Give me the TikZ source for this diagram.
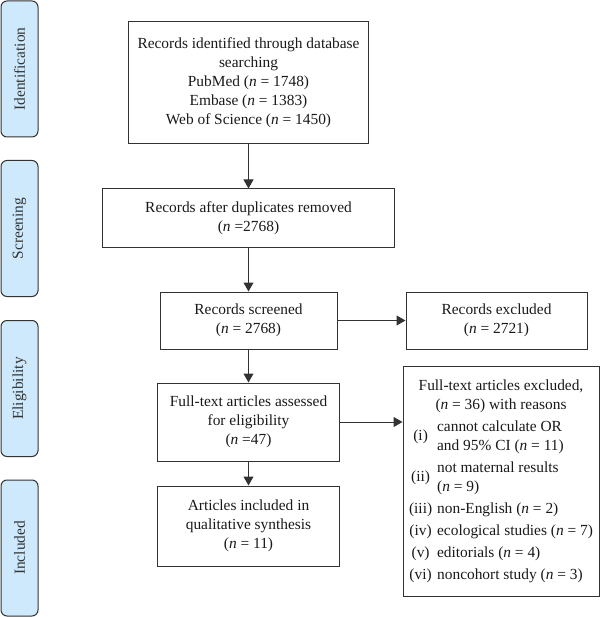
\documentclass[tikz,border=0pt]{standalone}
\usepackage{fontspec}
\setmainfont{Liberation Serif}
\usetikzlibrary{arrows.meta}
\definecolor{stageblue}{HTML}{CDE9FB}
\definecolor{inkgray}{HTML}{333333}
\tikzset{
  stage/.style={draw=inkgray, line width=1pt, fill=stageblue, rounded corners=6pt,
    rotate=90, minimum width=136pt, minimum height=37pt, inner sep=0pt, text=inkgray},
  flowbox/.style={draw=inkgray, line width=1pt, align=center, inner sep=0pt, text=black!90},
}
\newcommand{\nn}{\textit{n}}
\newcommand{\itemgap}{\\ \noalign{\vskip 3pt}}
\begin{document}
\begin{tikzpicture}[x=1pt, y=-1pt, font=\fontsize{15.4}{19}\selectfont,
    >={Triangle[width=10pt,length=9pt]}]
  \useasboundingbox (0,0) rectangle (600,617);

  % stage labels
  \begin{scope}[every node/.style={stage}]
    \node (ident) at (19.5,69) {Identification};
    \node (screen) at (19.5,228.5) {Screening};
    \node (elig) at (19.5,388.5) {Eligibility};
    \node (incl) at (19.5,548) {Included};
  \end{scope}

  % flow boxes
  \begin{scope}[every node/.style={flowbox}]
    \node[minimum width=240pt, minimum height=122pt] (found) at (248.5,83)
      {Records identified through database\\searching\\PubMed (\nn{} = 1748)\\Embase (\nn{} = 1383)\\Web of Science (\nn{} = 1450)};
    \node[minimum width=292pt, minimum height=58pt] (dedup) at (248.5,218)
      {Records after duplicates removed\\(\nn{} =2768)};
    \node[minimum width=177pt, minimum height=57pt] (screened) at (248.5,320.5)
      {Records screened\\(\nn{} = 2768)};
    \node[minimum width=182pt, minimum height=78pt] (fulltext) at (248.5,422)
      {Full-text articles assessed\\for eligibility\\(\nn{} =47)};
    \node[minimum width=182pt, minimum height=80pt] (included) at (248.5,526)
      {Articles included in\\qualitative synthesis\\(\nn{} = 11)};
    \node[minimum width=181pt, minimum height=57pt] (excluded) at (496.5,320.5)
      {Records excluded\\(\nn{} = 2721)};
    \node[minimum width=196pt, minimum height=230pt] (reasons) at (501,481)
      {\begin{tabular}{@{}c@{\hspace{5pt}}l@{}}
        \multicolumn{2}{c}{Full-text articles excluded,}\\
        \multicolumn{2}{c}{(\nn{} = 36) with reasons}\itemgap
        (i) & \begin{tabular}[c]{@{}l@{}}cannot calculate OR\\and 95\% CI (\nn{} = 11)\end{tabular}\itemgap
        (ii) & \begin{tabular}[c]{@{}l@{}}not maternal results\\(\nn{} = 9)\end{tabular}\itemgap
        (iii) & non-English (\nn{} = 2)\itemgap
        (iv) & ecological studies (\nn{} = 7)\itemgap
        (v) & editorials (\nn{} = 4)\itemgap
        (vi) & noncohort study (\nn{} = 3)
      \end{tabular}};
  \end{scope}

  \begin{scope}[every edge/.style={draw=inkgray, line width=1pt}]
    \path [->] (found) edge (dedup);
    \path [->] (dedup) edge (screened);
    \path [->] (screened) edge (fulltext);
    \path [->] (fulltext) edge (included);
    \path [->] (screened) edge (excluded);
    \path [->] (fulltext) edge (fulltext -| reasons.west);
  \end{scope}
\end{tikzpicture}
\end{document}
